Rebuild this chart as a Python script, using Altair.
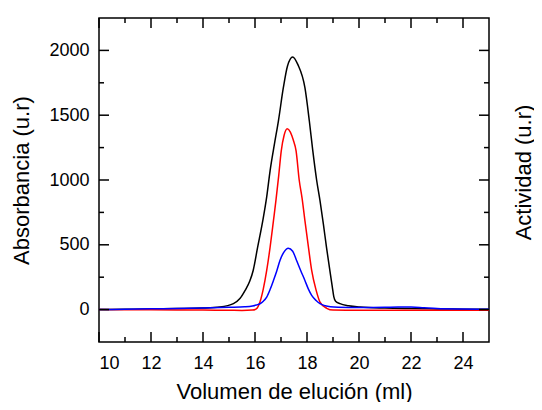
import altair as alt
import pandas as pd

# ---- data ----
x_black = [10, 11, 12, 13, 14, 14.65, 15.17, 15.42, 15.62, 15.8, 15.93, 16.1, 16.3, 16.45, 16.58,
           16.75, 16.9, 17.09, 17.25, 17.45, 17.65, 17.92, 18.09, 18.22, 18.37, 18.5, 18.63,
           18.75, 18.88, 18.97, 19.03, 19.1, 19.27, 19.6, 20.04, 21, 22, 23, 24, 25]
y_black = [0, 2, 5, 8, 12, 20, 46, 85, 148, 220, 302, 480, 687, 870, 1071,
           1280, 1455, 1712, 1880, 1950, 1890, 1712, 1455, 1230, 1000, 840, 660,
           480, 300, 180, 100, 65, 46, 30, 20, 12, 8, 5, 3, 2]

x_red = [10, 12, 14, 15, 15.5, 15.9, 16.05, 16.19, 16.32, 16.45, 16.58, 16.71, 16.81, 16.91,
         17.01, 17.12, 17.24, 17.36, 17.47, 17.58, 17.70, 17.81, 17.92, 18.05, 18.18, 18.35,
         18.5, 18.76, 19.0, 19.5, 20, 22, 25]
y_red = [0, -2, -4, -5, -6, -4, 5, 58, 160, 302, 480, 687, 850, 1030,
         1225, 1345, 1395, 1370, 1310, 1225, 1000, 860, 687, 490, 302, 150,
         58, 10, -4, -5, -5, -5, -5]

x_blue = [10, 11, 12, 13, 14, 15, 15.6, 15.9, 16.05, 16.19, 16.32, 16.45, 16.58, 16.71, 16.84,
          16.96, 17.1, 17.28, 17.45, 17.6, 17.76, 17.92, 18.05, 18.18, 18.35, 18.5, 18.7,
          18.9, 19.2, 19.6, 20, 20.5, 21, 21.5, 22, 22.5, 23, 24, 25]
y_blue = [0, 3, 6, 9, 12, 18, 22, 28, 35, 45, 65, 97, 155, 225, 300,
          379, 440, 474, 450, 379, 300, 225, 160, 110, 70, 46, 30,
          22, 18, 17, 17, 17, 18, 20, 20, 14, 8, 4, 2]

x_major = [10, 12, 14, 16, 18, 20, 22, 24]
x_minor = [11, 13, 15, 17, 19, 21, 23]
y_major = [0, 500, 1000, 1500, 2000]
y_minor = [250, 750, 1250, 1750]

x_title = "Volumen de elución (ml)"
y_title = "Absorbancia (u.r)"
y2_title = "Actividad (u.r)"

W, H = 390, 324
FONT = "Liberation Sans"

xscale = alt.Scale(domain=[10, 25], nice=False, zero=False)
yscale = alt.Scale(domain=[-250, 2250], nice=False, zero=False)

x_axis = alt.Axis(values=x_major, title=x_title, titleX=W / 2, titleY=49,
                  titleBaseline="middle", labelPadding=12, format="d")
y_axis = alt.Axis(values=y_major, title=y_title, titleX=-78, titleY=H / 2,
                  titleBaseline="middle", titleAngle=-90, titleAlign="center",
                  labelPadding=10, format="d")
y2_axis = alt.Axis(orient="right", labels=False, title=y2_title, titleX=34, titleY=154,
                   titleBaseline="middle", titleAngle=-90, titleAlign="center")


def curve(xs, ys, color, xa=None, ya=None):
    df = pd.DataFrame({"v": xs, "a": ys})
    return alt.Chart(df).mark_line(color=color, strokeWidth=1.5, interpolate="monotone").encode(
        x=alt.X("v:Q", scale=xscale, axis=xa),
        y=alt.Y("a:Q", scale=yscale, axis=ya),
    )


layers = [
    curve(x_black, y_black, "black", x_axis, y_axis),
    curve(x_red, y_red, "#ff0000"),
    curve(x_blue, y_blue, "#0000ff"),
]


def xticks(vals, length, top):
    df = pd.DataFrame({"t": vals})
    if top:
        yy, yy2 = alt.value(0), alt.value(length)
    else:
        yy, yy2 = alt.value(H), alt.value(H - length)
    return alt.Chart(df).mark_rule(color="black", strokeWidth=1.5).encode(
        x=alt.X("t:Q", scale=xscale, axis=None), y=yy, y2=yy2)


def yticks(vals, length, right, axis=None):
    df = pd.DataFrame({"t": vals})
    if right:
        xx, xx2 = alt.value(W), alt.value(W - length)
    else:
        xx, xx2 = alt.value(0), alt.value(length)
    return alt.Chart(df).mark_rule(color="black", strokeWidth=1.5).encode(
        y=alt.Y("t:Q", scale=yscale, axis=axis), x=xx, x2=xx2)


layers += [
    xticks(x_major, 10, False), xticks(x_major, 10, True),
    xticks(x_minor, 5, False), xticks(x_minor, 5, True),
    yticks(y_major, 10, False), yticks(y_major, 10, True, y2_axis),
    yticks(y_minor, 5, False), yticks(y_minor, 5, True),
]

chart = alt.layer(*layers).resolve_axis(x="independent", y="independent").properties(
    width=W, height=H,
    background="white",
    autosize=alt.AutoSizeParams(type="none"),
    padding={"left": 91, "top": 10, "right": 45, "bottom": 60},
).configure_view(stroke="black", strokeWidth=1.5).configure_axis(
    labelFont=FONT, titleFont=FONT, labelFontSize=18, titleFontSize=22,
    labelColor="black", titleColor="black", titleFontWeight="normal",
    grid=False, domain=False, ticks=False, tickSize=0,
)

chart.save("out.html", embed_options={"renderer": "svg", "actions": False})
